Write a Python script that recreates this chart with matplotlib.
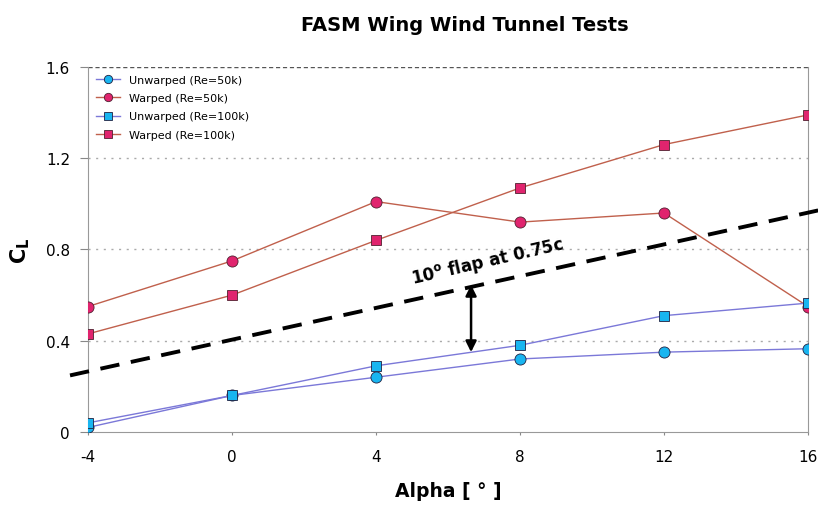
import matplotlib
matplotlib.use("Agg")
import matplotlib.pyplot as plt

alpha = [-4, 0, 4, 8, 12, 16]
unwarped_50k = [0.02, 0.16, 0.24, 0.32, 0.35, 0.365]
warped_50k = [0.55, 0.75, 1.01, 0.92, 0.96, 0.55]
unwarped_100k = [0.04, 0.16, 0.29, 0.38, 0.51, 0.565]
warped_100k = [0.43, 0.60, 0.84, 1.07, 1.26, 1.39]

flap_x = [-4.5, 16.3]
flap_y = [0.248, 0.972]
arrow_x = 6.64
arrow_y = (0.35, 0.645)

fig = plt.figure(figsize=(8.18, 5.06), dpi=100)
ax = fig.add_axes([0.1076, 0.1443, 0.8802, 0.7213])

blue_line = "#7b78d8"
red_line = "#c0604c"
cyan = "#19b5f0"
pink = "#e0246e"
edge = "#202040"

ax.plot(alpha, unwarped_50k, color=blue_line, lw=1, marker="o", ms=8,
        mfc=cyan, mec=edge, mew=0.6, label="Unwarped (Re=50k)", zorder=4)
ax.plot(alpha, warped_50k, color=red_line, lw=1, marker="o", ms=8,
        mfc=pink, mec="#502030", mew=0.6, label="Warped (Re=50k)", zorder=4)
ax.plot(alpha, unwarped_100k, color=blue_line, lw=1, marker="s", ms=7.5,
        mfc=cyan, mec=edge, mew=0.6, label="Unwarped (Re=100k)", zorder=4)
ax.plot(alpha, warped_100k, color=red_line, lw=1, marker="s", ms=7.5,
        mfc=pink, mec="#502030", mew=0.6, label="Warped (Re=100k)", zorder=4)

# dashed reference line, runs past the plot edges
ax.plot(flap_x, flap_y, color="black", lw=2.8, ls=(0, (5, 3)),
        clip_on=False, zorder=3)
ax.annotate("", xy=(arrow_x, arrow_y[1]), xytext=(arrow_x, arrow_y[0]),
            arrowprops=dict(arrowstyle="<|-|>", color="black", lw=1.8,
                            mutation_scale=16, shrinkA=0, shrinkB=0))
ax.text(7.1, 0.75, r"10$^\mathbf{o}$ flap at 0.75c", rotation=13,
        rotation_mode="anchor", ha="center", va="center",
        fontsize=12, fontweight="bold")

ax.set_xlim(-4, 16)
ax.set_ylim(0, 1.6)
ax.set_xticks(alpha)
ax.set_xticklabels(["-4", "0", "4", "8", "12", "16"])
ax.set_yticks([0, 0.4, 0.8, 1.2, 1.6])
ax.set_yticklabels(["0", "0.4", "0.8", "1.2", "1.6"])
ax.tick_params(labelsize=11, color="#888888")
ax.tick_params(axis="x", length=2.5, pad=10)
ax.tick_params(axis="y", length=6, pad=7)

for y in [0.4, 0.8, 1.2]:
    ax.axhline(y, color="#aaaaaa", lw=1, ls=(0, (1.5, 4)), zorder=1)
ax.axhline(1.6, color="#555555", lw=1, ls=(0, (3, 2)), zorder=1)

ax.spines["top"].set_visible(False)
for side in ["left", "bottom", "right"]:
    ax.spines[side].set_color("#999999")

ax.set_xlabel("Alpha [ ° ]", fontsize=13.5, fontweight="bold", labelpad=12)
ax.set_ylabel(r"$\mathbf{C_L}$", fontsize=15, labelpad=10)
ax.set_title("FASM Wing Wind Tunnel Tests", fontsize=14, fontweight="bold",
             pad=27, x=0.524)

leg = ax.legend(loc="upper left", bbox_to_anchor=(0.0, 1.0), fontsize=8,
                frameon=True, edgecolor="white", framealpha=1,
                handlelength=2.2, labelspacing=0.75, borderaxespad=0.3,
                markerscale=0.75)
leg.get_frame().set_linewidth(0)

fig.savefig("out.png", dpi=100)
